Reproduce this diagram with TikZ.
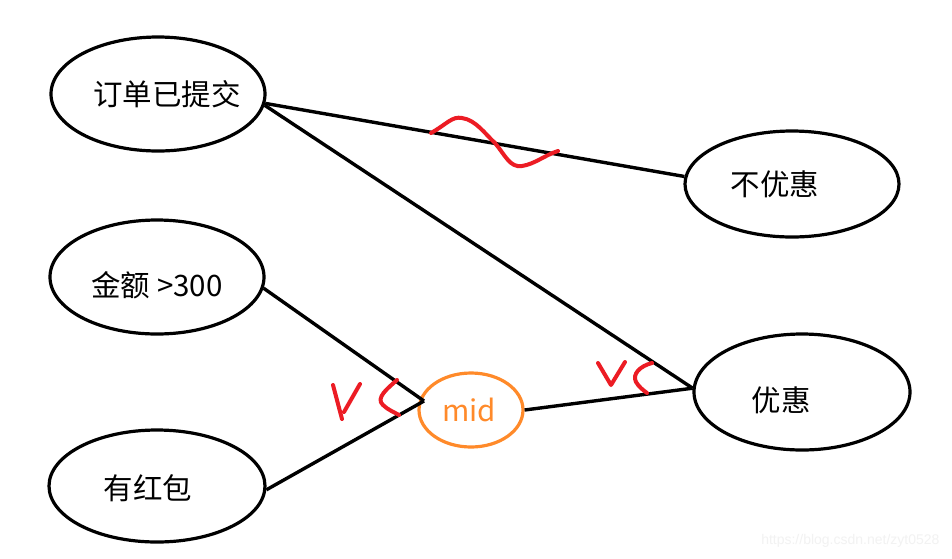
\documentclass[tikz,border=0pt]{standalone}
\usepackage{fontspec}
\setmainfont{Noto Sans CJK SC}
\newfontfamily\wmfont{Liberation Sans}
\usetikzlibrary{shapes.geometric}
\definecolor{midorange}{HTML}{FF8A2A}
\definecolor{markred}{HTML}{EC1C24}
\begin{document}
\begin{tikzpicture}[x=1pt,y=-1pt,
  oval/.style={draw=black,line width=3.2pt,ellipse,inner sep=0pt},
  conn/.style={draw=black,line width=3.4pt},
  redmark/.style={draw=markred,line width=4pt,line cap=round,line join=round},
  lbl/.style={font=\fontsize{29.5}{34}\selectfont}]
\useasboundingbox (0,0) rectangle (952,558);
\fill[white] (0,0) rectangle (952,558);
% ellipses
\node[oval,minimum width=214pt,minimum height=114pt] (a) at (158,94) {};
\node[oval,minimum width=214pt,minimum height=106pt] (b) at (792,184) {};
\node[oval,minimum width=214pt,minimum height=114pt] (c) at (157,277) {};
\node[oval,minimum width=216pt,minimum height=112pt] (d) at (157,486) {};
\node[oval,minimum width=216pt,minimum height=116pt] (e) at (802,392) {};
\node[oval,draw=midorange,minimum width=104pt,minimum height=74pt] (m) at (471,410) {};
% labels
\node[lbl] (ta) at (167,94) {订单已提交};
\node[lbl] (tb) at (775,184) {不优惠};
\node[lbl] (tc) at (157,285) {金额 >300};
\node[lbl] (td) at (148,488) {有红包};
\node[lbl] (te) at (781,400) {优惠};
\node[lbl,text=midorange] (tm) at (469,410) {mid};
% connectors
\coordinate (mj) at (424,401);
\draw[conn] (a.-5) -- (b.176);
\draw[conn] (a.-6.3) -- (e.178.4);
\draw[conn] (c.-6.7) -- (mj);
\draw[conn] (d.-2) -- (mj);
\draw[conn] (m.east) -- (e.178.4);
% red marks
\draw[redmark] (431,133) .. controls (447,124) and (452,116) .. (462,118)
  .. controls (476,120) and (485,134) .. (495,143)
  .. controls (505,155) and (510,168) .. (522,166)
  .. controls (535,164) and (545,155) .. (558,151);
\draw[redmark] (333,385) -- (342,419);
\draw[redmark] (360,384) -- (344,412);
\draw[redmark] (397,380) .. controls (388,388) and (375,398) .. (383,405) .. controls (388,410) and (394,412) .. (399,415);
\draw[redmark] (598,363) -- (611,385) -- (625,362);
\draw[redmark] (652,363) .. controls (640,366) and (632,374) .. (636,382) .. controls (639,387) and (643,390) .. (647,393);
% watermark
\node[text=black!5,font=\wmfont\fontsize{14}{16}\selectfont,anchor=east] (wm) at (943,541) {https://blog.csdn.net/zyt0528};
\end{tikzpicture}
\end{document}
